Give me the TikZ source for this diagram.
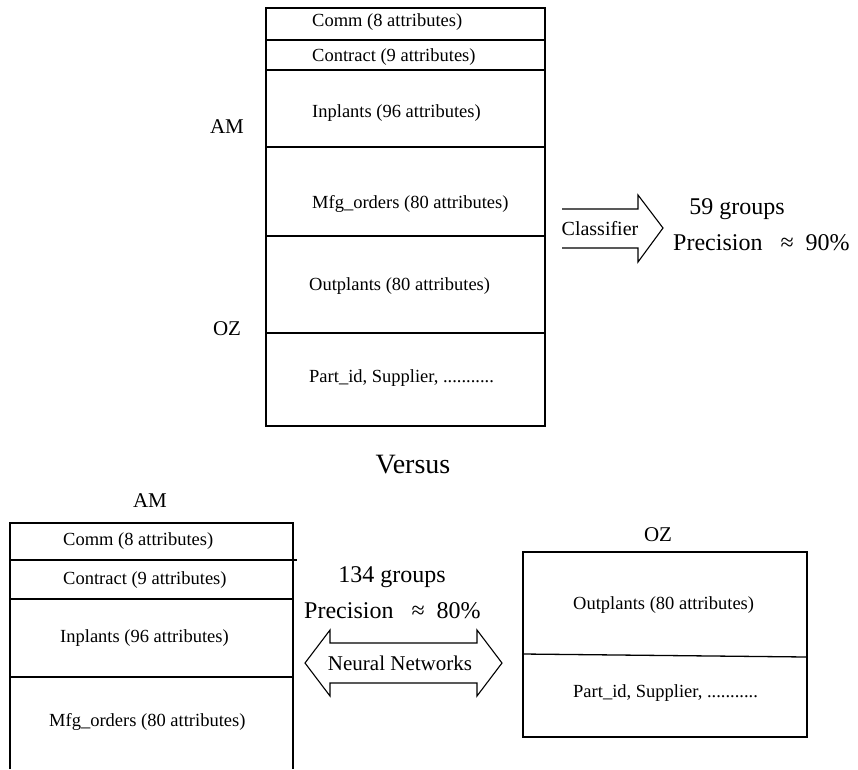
\documentclass[tikz,border=0pt]{standalone}
\usepackage{fontspec}
\setmainfont{Liberation Serif}
\begin{document}
\begin{tikzpicture}[x=1pt,y=-1pt,
  frame/.style={line width=1.3pt},
  field/.style={font=\fontsize{18.5}{20}\selectfont, inner sep=0pt},
  tag/.style={font=\fontsize{21}{24}\selectfont, inner sep=0pt},
  result/.style={font=\fontsize{24}{28}\selectfont, inner sep=0pt},
  outline/.style={line width=1.1pt, line join=miter}]
\useasboundingbox (0,0) rectangle (858,769);

% ---- combined table (top) ----
\draw[frame] (266,8) rectangle (545,426);
\foreach \y in {40,70,147,236,333} \draw[frame] (266,\y) -- (545,\y);
\node[field, anchor=west] (tcomm) at (312,22)  {Comm (8 attributes)};
\node[field, anchor=west] (tcontract) at (312,57)  {Contract (9 attributes)};
\node[field, anchor=west] (tinplants) at (312,113) {Inplants (96 attributes)};
\node[field, anchor=west] (tmfg) at (312,204) {Mfg\_orders (80 attributes)};
\node[field, anchor=west] (toutplants) at (309,286) {Outplants (80 attributes)};
\node[field, anchor=west] (tpart) at (309,378) {Part\_id, Supplier, ...........};
\node[tag] (tam) at (227,127) {AM};
\node[tag] (toz) at (227,329) {OZ};

% ---- classifier arrow and its result ----
\node[font=\fontsize{20}{24}\selectfont, inner sep=0pt] (cls) at (600,229) {Classifier};
\draw[outline] (562,209) -- (638,209) -- (638,195) -- (663,228)
  -- (638,262) -- (638,248) -- (562,248);
\node[result] (g59) at (737,209) {59 groups};
\node[result, anchor=west] (p90) at (673,243) {Precision \ \ ≈ \ 90\%};

% ---- separator ----
\node[font=\fontsize{28}{32}\selectfont, inner sep=0pt] (vs) at (413,465) {Versus};

% ---- AM table (bottom left, open at the bottom) ----
\draw[frame] (10,769) -- (10,523) -- (293,523) -- (293,769);
\draw[frame] (10,560) -- (297,560);
\draw[frame] (10,599) -- (293,599);
\draw[frame] (10,677) -- (293,677);
\node[tag] (bam) at (150,501) {AM};
\node[field, anchor=west] (bcomm) at (63,541) {Comm (8 attributes)};
\node[field, anchor=west] (bcontract) at (63,580) {Contract (9 attributes)};
\node[field, anchor=west] (binplants) at (60,638) {Inplants (96 attributes)};
\node[field, anchor=west] (bmfg) at (49,722) {Mfg\_orders (80 attributes)};

% ---- OZ table (bottom right) ----
\draw[frame] (523,552) rectangle (807,737);
\draw[frame] (523,654) -- (807,657);
\node[tag] (boz) at (658,535) {OZ};
\node[field, anchor=west] (boutplants) at (573,605) {Outplants (80 attributes)};
\node[field, anchor=west] (bpart) at (573,693) {Part\_id, Supplier, ...........};

% ---- neural network double arrow and its result ----
\node[tag] (nn) at (400,663) {Neural Networks};
\draw[outline] (330,643) -- (477,643) -- (477,630) -- (502,663)
  -- (477,696) -- (477,683) -- (330,683) -- (330,696) -- (305,663)
  -- (330,630) -- cycle;
\node[result] (g134) at (392,577) {134 groups};
\node[result, anchor=west] (p80) at (304,611) {Precision \ \ ≈ \ 80\%};
\end{tikzpicture}
\end{document}
